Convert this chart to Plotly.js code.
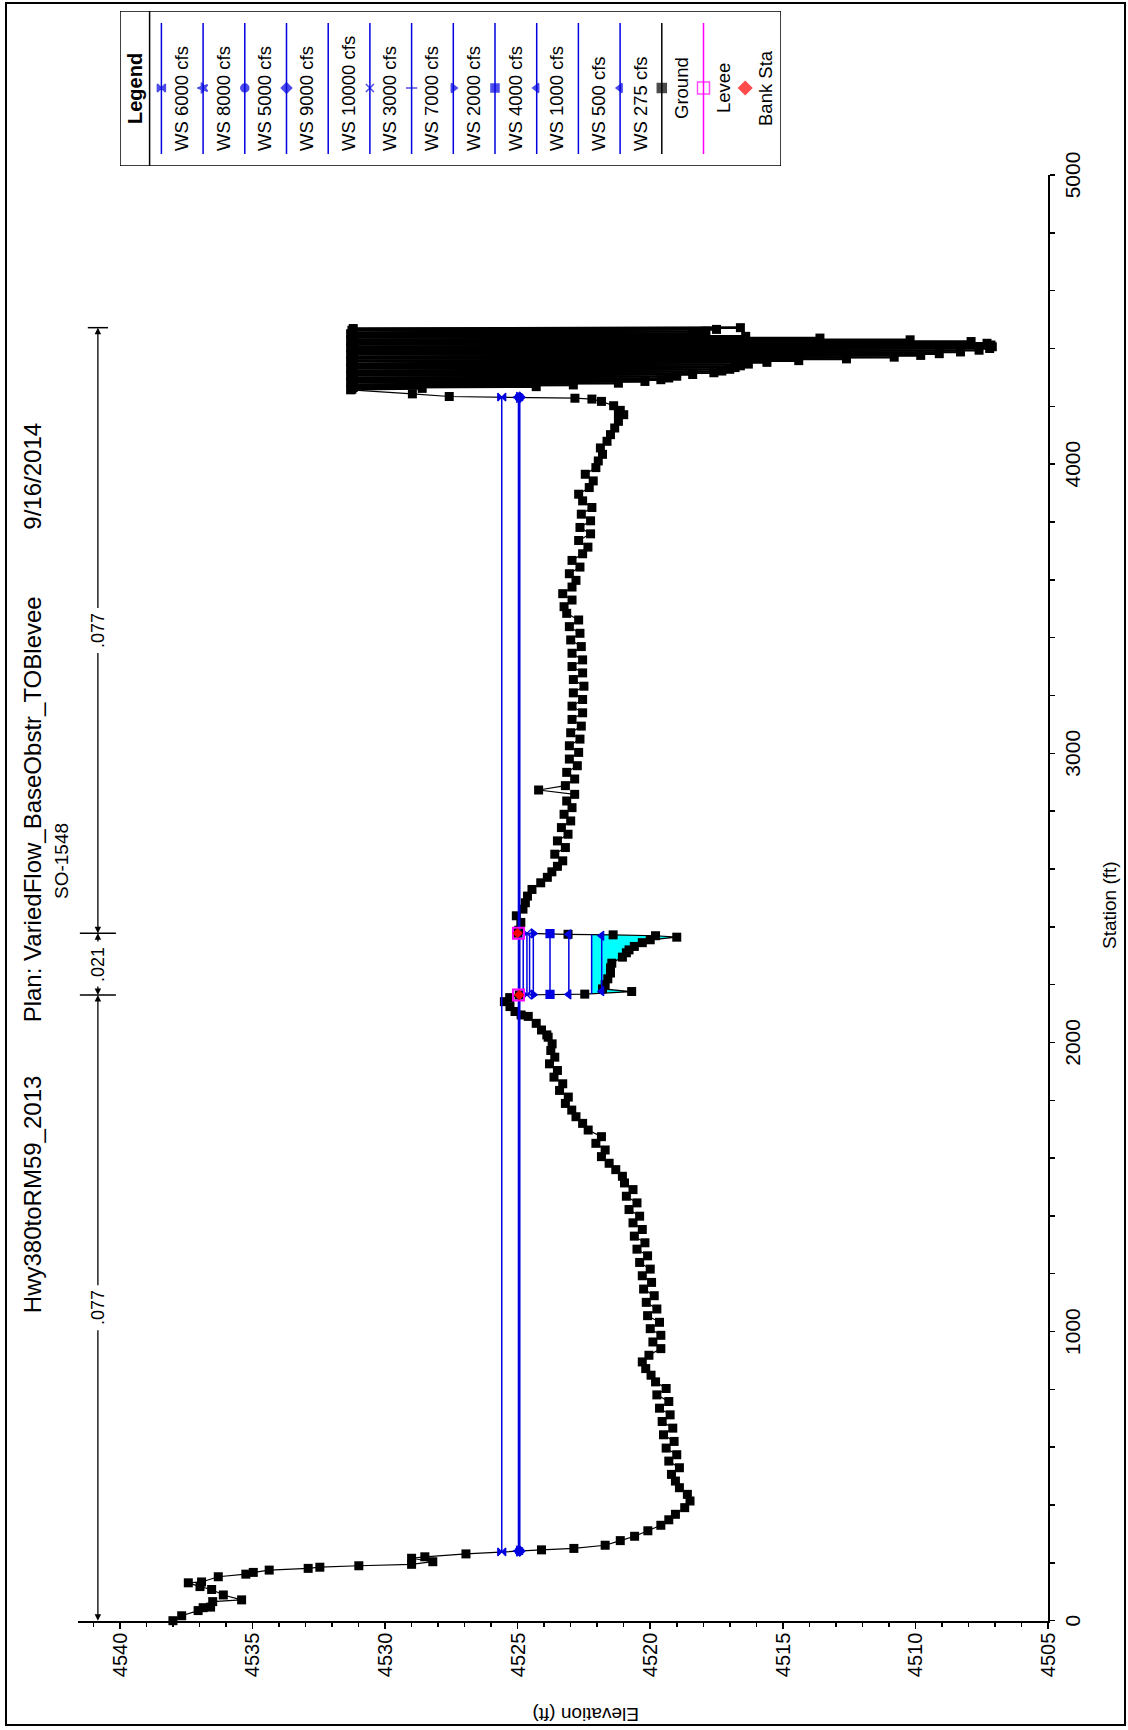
<!DOCTYPE html>
<html><head><meta charset="utf-8">
<script src="https://cdn.plot.ly/plotly-3.0.1.min.js"></script>
<style>
html,body{margin:0;padding:0;background:#fff;width:1128px;height:1730px;overflow:hidden;}
#wrap{position:absolute;left:0;top:0;width:1730px;height:1128px;transform-origin:0 0;transform:translate(0px,1730px) rotate(-90deg);}
#chart{width:1730px;height:1128px;}
</style></head><body><div id="wrap"><div id="chart"></div></div>
<script>
// ---------------- data ----------------
const groundSta = [
0,17,35,45,47,66,72,89,108,118,
131,134,152,161,167,175,181,185,190,195,
204,216,221,231,245,250,261,277,292,311,
330,349,368,391,414,437,460,483,506,529,
552,574,597,620,643,666,689,712,735,758,
781,803,826,849,872,895,918,941,964,987,
1010,1032,1055,1078,1101,1124,1147,1170,1193,1216,
1239,1262,1285,1307,1330,1353,1376,1399,1422,1445,
1468,1491,1514,1537,1560,1582,1605,1628,1651,1674,
1697,1720,1743,1766,1789,1811,1834,1857,1880,1903,
1926,1949,1972,1995,2018,2026,2043,2066,2090,2095,
2107,2124,2141,2155,2164,2167,2176,2185,2200,2220,
2240,2258,2274,2295,2310,2320,2332,2345,2355,2364,
2369,2372,2374,2378,2388,2415,2438,2461,2483,2506,
2529,2552,2571,2590,2609,2628,2651,2674,2697,2720,
2743,2766,2789,2812,2835,2858,2873,2888,2911,2934,
2957,2980,3003,3026,3049,3071,3094,3117,3140,3163,
3186,3209,3232,3255,3278,3300,3323,3346,3369,3392,
3415,3438,3461,3484,3507,3530,3552,3575,3598,3621,
3644,3667,3690,3713,3736,3759,3781,3804,3827,3850,
3873,3896,3919,3942,3965,3988,4011,4034,4056,4079,
4102,4125,4148,4171,4176,4186,4202,4217,4225,4228,
4234,4243,4257,
4259,4262,4265,4268,4271,4274,4277,4280,4283,4286,
4289,4292,4295,4298,4301,4304,4307,4310,4313,4316,
4319,4322,4325,4328,4331,4334,4337,4340,4343,4346,
4349,4352,4355,4358,4361,4364,4367,4370,4373,4376,
4379,4382,4385,4388,4391,4394,4397,4400,4403,4406,
4409,4412,4415,4418,4421,4424,4427,4430,4433,4436,
4439,4442,4445,4448,4451,4454,4457,4460,4463,4466,
4469,4472
];
const groundElev = [
4538.0,4537.67,4537.05,4536.86,4536.58,4536.5,4535.41,4536.1,4536.54,4536.98,
4537.42,4536.92,4536.29,4535.25,4534.97,4534.37,4532.9,4532.46,4530.99,4529.0,
4528.2,4529.0,4528.5,4526.95,4524.1,4522.88,4521.7,4521.13,4520.59,4520.09,
4519.6,4519.3,4519.05,4518.7,4518.5,4518.6,4518.9,4519.05,4519.2,4518.9,
4519.3,4519.0,4519.4,4519.1,4519.5,4519.15,4519.55,4519.25,4519.65,4519.3,
4519.75,4519.4,4519.8,4519.97,4520.17,4520.3,4520.05,4519.6,4519.9,4519.6,
4520.0,4519.65,4520.1,4519.75,4520.15,4519.85,4520.25,4519.95,4520.3,4520.0,
4520.4,4520.1,4520.5,4520.2,4520.6,4520.3,4520.65,4520.4,4520.8,4520.5,
4520.9,4520.65,4520.97,4521.05,4521.3,4521.55,4521.84,4521.7,4522.05,4521.84,
4522.34,4522.55,4522.8,4522.96,4523.2,4523.09,4523.42,4523.3,4523.63,4523.5,
4523.8,4523.6,4523.75,4523.7,4523.85,4523.9,4524.1,4524.3,4524.6,4524.87,
4525.1,4525.29,4525.5,4525.3,4524.94,4522.47,4520.7,4521.8,4521.7,4521.6,
4521.5,4521.5,4521.45,4521.05,4520.9,4520.8,4520.6,4520.3,4520.0,4519.0,
4519.8,4521.4,4523.1,4525.0,4524.96,4524.88,4525.05,4524.8,4524.71,4524.63,
4524.46,4524.13,4523.88,4523.71,4523.5,4523.3,4523.6,4523.2,4523.5,4523.1,
4523.35,4523.0,4523.25,4522.95,4523.15,4522.85,4524.21,4523.2,4522.85,4523.15,
4522.75,4523.05,4522.7,4523.05,4522.65,4523.0,4522.6,4522.95,4522.55,4522.95,
4522.55,4522.9,4522.5,4522.9,4522.55,4522.95,4522.55,4522.95,4522.6,4523.0,
4522.65,4523.05,4522.7,4523.15,4523.25,4522.95,4523.3,4522.95,4522.8,4523.05,
4522.65,4522.95,4522.55,4522.35,4522.7,4522.25,4522.65,4522.25,4522.6,4522.2,
4522.55,4522.7,4522.3,4522.15,4522.45,4522.05,4521.96,4521.8,4521.88,4521.63,
4521.5,4521.34,4521.2,4521.0,4521.2,4521.13,4521.38,4521.84,4522.2,4522.84,
4527.58,4528.97,4531.3,
4531.25,4528.6,4531.2,4524.3,4531.25,4522.9,4531.2,4521.2,4531.3,4520.2,
4531.2,4519.6,4531.25,4519.3,4531.2,4519.0,4531.3,4518.4,4531.2,4517.6,
4531.25,4517.3,4531.2,4517.0,4531.3,4516.8,4531.2,4516.6,4531.25,4516.3,
4531.2,4515.6,4531.3,4514.4,4531.2,4512.6,4531.25,4510.8,4531.2,4509.8,
4531.3,4509.1,4531.2,4508.3,4531.25,4507.6,4531.2,4507.2,4531.3,4507.1,
4531.2,4507.15,4531.25,4507.3,4531.2,4507.9,4531.3,4510.2,4531.2,4513.6,
4531.25,4516.4,4531.2,4518.4,4531.3,4518.2,4531.2,4517.9,4531.25,4517.5,
4531.2,4516.6
];
const wsNames = ['WS 6000 cfs','WS 8000 cfs','WS 5000 cfs','WS 9000 cfs','WS 10000 cfs','WS 3000 cfs',
                 'WS 7000 cfs','WS 2000 cfs','WS 4000 cfs','WS 1000 cfs','WS 500 cfs','WS 275 cfs'];
const wsElev  = [4525.60,4524.97,4524.95,4524.92,4524.79,4524.65,4524.55,4524.41,4523.78,4523.07,4522.21,4521.83];
const wsLeft  = [238,241,241,241,2164,2165,2165,2165,2166,2166,2168,2177];
const wsRight = [4232,4231,4231,4231,2378,2377,2377,2377,2376,2374,2373,2369];
const bankSta = [2164,2378];
const bankElev = [4524.94,4525.0];
const leveeSta = [2164,2378];
const leveeElev = [4524.97,4524.97];
const nBreaks = [0,2164,2378,4472];
const nValues = ['.077','.021','.077'];
const filledProfile = 'WS 500 cfs';
const denseFrom = 4257;   // station where the densely surveyed levee/pond zone begins
const titleParts = ['Hwy380toRM59_2013','Plan: VariedFlow_BaseObstr_TOBlevee','9/16/2014'];
const subtitle = 'SO-1548';

// ---------------- styles ----------------
const wsSymbols = ['hourglass','star','circle','diamond',null,'x-thin-open','line-ns-open','triangle-down','square','triangle-up',null,'triangle-up'];
const BLUE = '#0000e0';
const FONT = 'Arial, "Liberation Sans", sans-serif';
const W = 1730, H = 1128;
const plotL = 109.3, plotR = 1555, plotT = 78, plotB = 1048;
const nElev = 4540.83;

const traces = [];
// water fill under the chosen profile, within the main channel
(function(){
  const w = wsElev[wsNames.indexOf(filledProfile)];
  const fx = [], fy = [];
  for (let i = 0; i < groundSta.length - 1; i++) {
    const s0 = groundSta[i], s1 = groundSta[i+1];
    if (s0 < bankSta[0] || s1 > bankSta[1]) continue;
    const e0 = groundElev[i], e1 = groundElev[i+1];
    if (e0 < w) { fx.push(s0); fy.push(e0); }
    if ((e0 < w) !== (e1 < w)) { const t = (w - e0) / (e1 - e0); fx.push(s0 + t*(s1 - s0)); fy.push(w); }
  }
  traces.push({type:'scatter', x:fx, y:fy, mode:'lines', fill:'toself', fillcolor:'#00ffff',
    line:{width:0, color:'#00ffff'}, hoverinfo:'skip', xaxis:'x', yaxis:'y'});
})();
const cut = groundSta.indexOf(denseFrom);
traces.push({type:'scatter', x:groundSta.slice(cut), y:groundElev.slice(cut), mode:'lines', hoverinfo:'skip',
  line:{color:'black', width:2.6, simplify:false}, cliponaxis:false, showlegend:false});
traces.push({type:'scatter', x:groundSta, y:groundElev, mode:'lines+markers', name:'Ground',
  line:{color:'black', width:1.2, simplify:false}, marker:{symbol:'square', size:9, color:'black'}, cliponaxis:false});
wsNames.forEach((n,i)=>{
  const sym = wsSymbols[i];
  traces.push({type:'scatter', name:n, x:[wsLeft[i], wsRight[i]], y:[wsElev[i], wsElev[i]],
    mode: sym ? 'lines+markers' : 'lines', line:{color:BLUE, width:1.5},
    marker:{symbol: sym || 'circle', size:8, color:BLUE, line:{color:BLUE, width:1.2}}});
});
traces.push({type:'scatter', name:'Levee', x:leveeSta, y:leveeElev, mode:'markers',
  marker:{symbol:'square-open', size:11, color:'#ff00ff', line:{color:'#ff00ff', width:2}}});
traces.push({type:'scatter', name:'Bank Sta', x:bankSta, y:bankElev, mode:'markers',
  marker:{symbol:'diamond', size:8, color:'#ff0000'}});

// ---------------- legend (HEC-RAS style box) ----------------
const legNames = wsNames.concat(['Ground','Levee','Bank Sta']);
const legColors = wsNames.map(()=>BLUE).concat(['black','#ff00ff','#ff0000']);
const legSymbols = wsSymbols.concat(['square','square-open','diamond']);
const legHasLine = wsNames.map(()=>true).concat([true,true,false]);
const legSizes = wsNames.map(()=>8).concat([9,12,10]);
const legU0 = 1564, legU1 = 1719, legV0 = 120, legV1 = 781;
const entryV = i => 161.4 + 41.7*i;
const shapes = [];
const annotations = [];
shapes.push({type:'rect', xref:'x2', yref:'y2', x0:legU0, x1:legU1, y0:legV0, y1:legV1, line:{color:'black', width:1.5}});
shapes.push({type:'line', xref:'x2', yref:'y2', x0:legU0, x1:legU1, y0:149.6, y1:149.6, line:{color:'black', width:1.5}});
annotations.push({xref:'x2', yref:'y2', x:1641.5, y:134.5, text:'<b>Legend</b>', showarrow:false,
  font:{family:FONT, size:20, color:'black'}, xanchor:'center', yanchor:'middle'});
const lmx=[], lmy=[], lms=[], lmc=[], lmz=[];
legNames.forEach((n,i)=>{
  const v = entryV(i);
  if (legHasLine[i]) shapes.push({type:'line', xref:'x2', yref:'y2', x0:1576, x1:1707, y0:v, y1:v, line:{color:legColors[i], width:1.5}});
  if (legSymbols[i]) { lmx.push(1642); lmy.push(v); lms.push(legSymbols[i]); lmc.push(legColors[i]); lmz.push(legSizes[i]); }
  const isWS = i < wsNames.length;
  annotations.push({xref:'x2', yref:'y2', x: isWS ? 1577 : 1641.5, y: v + 20, text:n, showarrow:false,
    xanchor: isWS ? 'left' : 'center', yanchor:'middle', font:{family:FONT, size:18.5, color:'black'}});
});
traces.push({type:'scatter', x:lmx, y:lmy, xaxis:'x2', yaxis:'y2', mode:'markers', cliponaxis:false, hoverinfo:'skip',
  marker:{symbol:lms, color:lmc, size:lmz, line:{color:lmc, width:1.5}}});

// ---------------- Manning's n segments ----------------
const pxPerSta = (plotR - plotL) / 5000;
for (let k = 0; k < nValues.length; k++) {
  const a = nBreaks[k], b = nBreaks[k+1], c = (a + b) / 2;
  const g = 21 / pxPerSta;
  annotations.push({x:c, y:nElev, xref:'x', yref:'y', text:nValues[k], showarrow:false,
    font:{family:FONT, size:18, color:'black'}, xanchor:'center', yanchor:'middle'});
  [[a, c - g], [b, c + g]].forEach(([head, tail])=>{
    annotations.push({x:head, y:nElev, ax:tail, ay:nElev, xref:'x', yref:'y', axref:'x', ayref:'y',
      text:'', showarrow:true, arrowhead:2, arrowsize:1, arrowwidth:1.3, arrowcolor:'black', standoff:0, startstandoff:0});
  });
}
nBreaks.slice(1).forEach((s, i)=>{
  const half = i < 2 ? 0.68 : 0.38;
  shapes.push({type:'line', xref:'x', yref:'y', x0:s, x1:s, y0:nElev - half, y1:nElev + half, line:{color:'black', width:1.5}});
});

// ---------------- texts ----------------
annotations.push({xref:'paper', yref:'paper', x:869/W, y:1 - 61/H, text:subtitle, showarrow:false,
  font:{family:FONT, size:19, color:'black'}, xanchor:'center', yanchor:'middle'});
annotations.push({xref:'paper', yref:'paper', x:825/W, y:1 - 1109/H, text:'Station (ft)', showarrow:false,
  font:{family:FONT, size:19, color:'black'}, xanchor:'center', yanchor:'middle'});
annotations.push({xref:'paper', yref:'paper', x:16/W, y:1 - 586/H, text:'Elevation (ft)', showarrow:false, textangle:-90,
  font:{family:FONT, size:19, color:'black'}, xanchor:'center', yanchor:'middle'});
// outer frame
shapes.push({type:'rect', xref:'paper', yref:'paper', x0:5/W, x1:1727/W, y0:1 - 1125/H, y1:1 - 6/H, line:{color:'black', width:2}});

const gap = '&nbsp;'.repeat(8);
const layout = {
  width:W, height:H, margin:{l:0, r:0, t:0, b:0}, paper_bgcolor:'white', plot_bgcolor:'white',
  showlegend:false, font:{family:FONT, color:'black'},
  title:{text: titleParts[0] + gap + titleParts[1] + '&nbsp;'.repeat(10) + titleParts[2],
    x:862/W, xref:'container', xanchor:'center', y:1 - 33/H, yref:'container', yanchor:'middle',
    font:{family:FONT, size:24, color:'black'}},
  xaxis:{domain:[plotL/W, plotR/W], range:[0,5000], anchor:'y', showline:true, linecolor:'black', linewidth:2,
    ticks:'outside', ticklen:5, tickwidth:1.5, tickcolor:'black', tickmode:'linear', tick0:0, dtick:1000,
    minor:{dtick:200, ticks:'outside', ticklen:5, tickwidth:1.5, tickcolor:'black'},
    showgrid:false, zeroline:false, tickfont:{family:FONT, size:21, color:'black'}, fixedrange:true},
  yaxis:{domain:[1 - plotB/H, 1 - plotT/H], range:[4505, 4541.58], anchor:'x', showline:true, linecolor:'black', linewidth:2,
    ticks:'outside', ticklen:6, tickwidth:1.5, tickcolor:'black', tickmode:'linear', tick0:4505, dtick:5,
    minor:{dtick:1, ticks:'outside', ticklen:4, tickwidth:1.5, tickcolor:'black'},
    showgrid:false, zeroline:false, tickfont:{family:FONT, size:20, color:'black'}, fixedrange:true},
  xaxis2:{domain:[legU0/W, legU1/W], range:[legU0, legU1], anchor:'y2', visible:false, fixedrange:true},
  yaxis2:{domain:[1 - legV1/H, 1 - legV0/H], range:[legV1, legV0], anchor:'x2', visible:false, fixedrange:true},
  shapes: shapes, annotations: annotations
};
Plotly.newPlot('chart', traces, layout, {staticPlot:true, displayModeBar:false});
</script></body></html>
